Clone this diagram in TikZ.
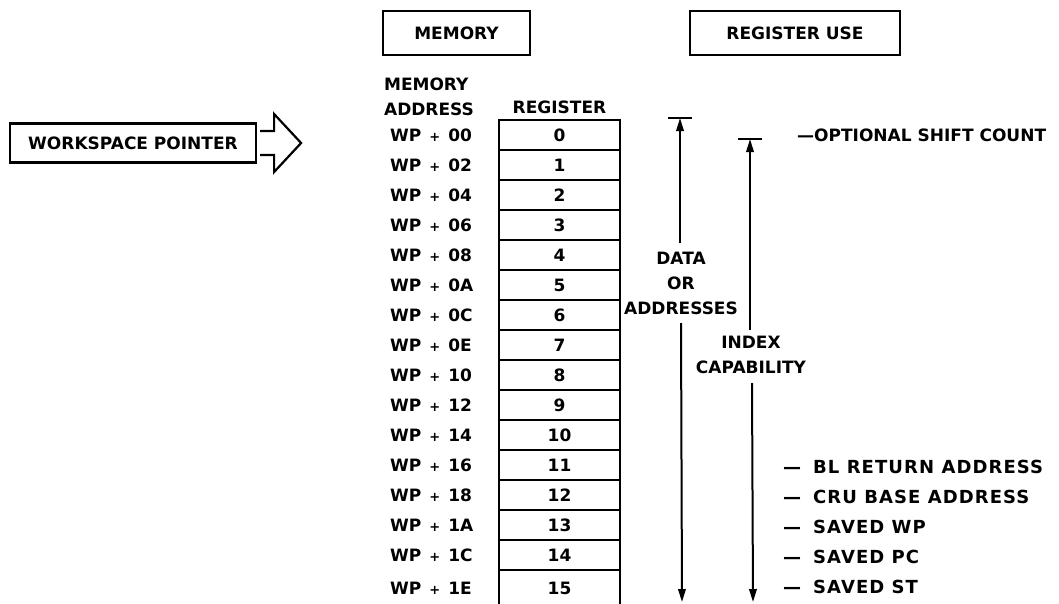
\documentclass[tikz,border=0pt]{standalone}
\usepackage{fontspec}
\setmainfont{DejaVu Sans}
\newfontfamily\widefont{DejaVu Sans}[LetterSpace=6]
\usetikzlibrary{arrows.meta}
\begin{document}
\begin{tikzpicture}[x=1pt,y=-1pt,
  lab/.style={font=\bfseries\fontsize{17}{25}\selectfont, inner sep=0pt},
  usel/.style={font=\widefont\bfseries\fontsize{18}{25}\selectfont, inner sep=0pt, anchor=west},
  box/.style={draw, line width=2.2pt, inner sep=0pt},
  cell/.style={box, lab, minimum width=121pt, minimum height=30pt},
  rng/.style={line width=2pt},
  rngtip/.style={-{Triangle[length=13pt,width=7.5pt]}}
]
\useasboundingbox (0,0) rectangle (1059,603);
\clip (0,0) rectangle (1059,603);

% headers
\node[box, lab, minimum width=147pt, minimum height=44pt] (mem) at (456.5,33) {MEMORY};
\node[box, lab, minimum width=210pt, minimum height=44pt] (reguse) at (795,33) {REGISTER USE};
\node[lab, align=left] (maddr) at (429,97) {MEMORY\\ADDRESS};
\node[lab] (reghdr) at (559.5,107) {REGISTER};

% register cells
\foreach \i in {0,...,14}
  \node[cell] (r\i) at (559.5,{135+30*\i}) {\i};
\node[cell, minimum height=36pt] (r15) at (559.5,588) {15};

% addresses
\foreach \h [count=\i from 0] in {00,02,04,06,08,0A,0C,0E,10,12,14,16,18,1A,1C}
  \node[lab, anchor=west] (a\i) at (390,{135+30*\i}) {WP\hspace{8pt}{\fontsize{13}{13}\selectfont+}\hspace{8pt}\h};
\node[lab, anchor=west] (a15) at (390,588) {WP\hspace{8pt}{\fontsize{13}{13}\selectfont+}\hspace{8pt}1E};

% workspace pointer
\node[box, lab, minimum width=246pt, minimum height=39pt] (wp) at (133,143) {WORKSPACE POINTER};
\draw[line width=2.2pt, line join=miter] (wp.east) ++(3,-12) -- ++(14,0) -- ++(0,-17) -- ++(27,29)
  -- ++(-27,29) -- ++(0,-17) -- ++(-14,0);

% data or addresses range
\coordinate (b1l) at (668,118);
\coordinate (b1r) at (692,118);
\coordinate (b1) at (680,118);
\coordinate (d1a) at (680,243);
\coordinate (d1b) at (681,323);
\coordinate (d1e) at (682,602);
\draw[rng] (b1l) -- (b1r);
\draw[rng, rngtip] (d1a) -- (b1);
\draw[rng, rngtip] (d1b) -- (d1e);
\node[lab, align=center] (dat) at (681,283) {DATA\\OR\\ADDRESSES};

% index capability range
\coordinate (b2l) at (738,139);
\coordinate (b2r) at (762,139);
\coordinate (b2) at (750,139);
\coordinate (d2a) at (750,330);
\coordinate (d2b) at (752,383);
\coordinate (d2e) at (753,602);
\draw[rng] (b2l) -- (b2r);
\draw[rng, rngtip] (d2a) -- (b2);
\draw[rng, rngtip] (d2b) -- (d2e);
\node[lab, align=center] (idx) at (751,355) {INDEX\\CAPABILITY};

% register use labels
\node[lab, anchor=west] (u0) at (797,135) {—OPTIONAL SHIFT COUNT};
\node[usel] (u11) at (783,467) {—\hspace{12pt}BL RETURN ADDRESS};
\node[usel] (u12) at (783,497) {—\hspace{12pt}CRU BASE ADDRESS};
\node[usel] (u13) at (783,527) {—\hspace{12pt}SAVED WP};
\node[usel] (u14) at (783,557) {—\hspace{12pt}SAVED PC};
\node[usel] (u15) at (783,587) {—\hspace{12pt}SAVED ST};
\end{tikzpicture}
\end{document}
